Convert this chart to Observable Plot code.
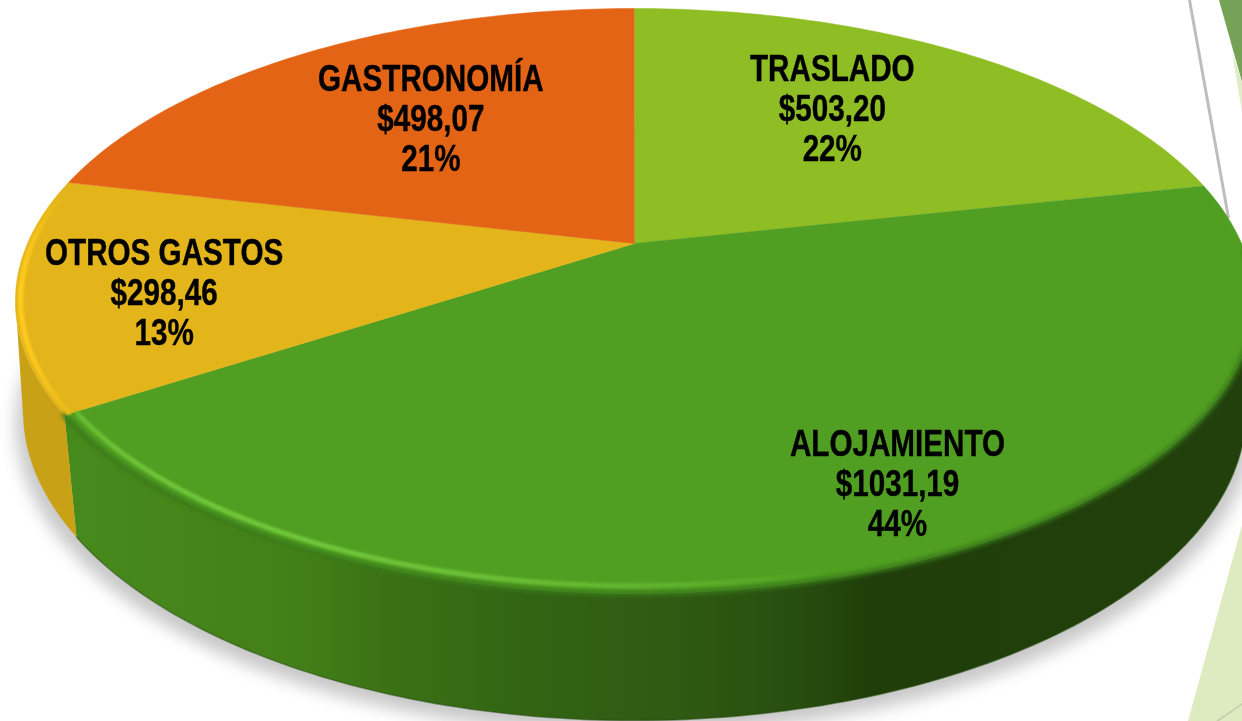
<!DOCTYPE html>
<html lang="es">
<head>
<meta charset="utf-8">
<script src="https://cdn.jsdelivr.net/npm/d3@7"></script>
<script src="https://cdn.jsdelivr.net/npm/@observablehq/plot@0.6"></script>
<style>
  html, body { margin: 0; padding: 0; background: #fff; overflow: hidden; }
  #stage { position: relative; width: 1242px; height: 721px; overflow: hidden; }
  #stage svg { position: absolute; left: 0; top: 0; }
  .deco { position: absolute; inset: 0; }
  .d1 { background: #74a257; clip-path: polygon(1219px 0, 1242px 0, 1242px 82px); }
  .d2 { background: #e0ecc8; clip-path: polygon(1232px 52px, 1242px 82px, 1242px 112px); }
  .d3 { background: #bdbdbd; clip-path: polygon(1188px 0, 1191px 0, 1230px 218px, 1227px 218px); }
  .d4 { background: #deeac0; clip-path: polygon(1242px 525px, 1242px 721px, 1188px 721px); }
  .d5 { background: #c4cfac; clip-path: polygon(1216px 721px, 1242px 703px, 1242px 705px, 1219px 721px); }
</style>
</head>
<body>
<div id="stage">
  <div class="deco d1"></div><div class="deco d2"></div><div class="deco d3"></div>
  <div class="deco d4"></div><div class="deco d5"></div>
</div>
<script>
// ---- data ----
const categories = ["TRASLADO", "ALOJAMIENTO", "OTROS GASTOS", "GASTRONOMÍA"];
const amounts = [503.20, 1031.19, 298.46, 498.07];
const amountLabels = ["$503,20", "$1031,19", "$298,46", "$498,07"];
const percentLabels = ["22%", "44%", "13%", "21%"];

// ---- styles ----
const faceColors = ["#8fbe24", "#519f22", "#e3b51a", "#e46415"];
const wallStops = [[70,"#478a1c"],[300,"#437f18"],[400,"#3a7015"],[530,"#326413"],[700,"#2e5812"],[800,"#274d0f"],[871,"#1f3e0a"],[1242,"#22400c"]];
const otherWall = "#c9a117";
const labelRadius = [0.642, 0.82, 0.768, 0.611];
const labelTurn = [34.1, 153.1, 257.3, 323];

// ---- perspective of the disc ----
const rad = Math.PI / 180;
const cx = 634, cy = 243, A = 607, B = 281.2, k = 0.1966;
const disc = (deg, r = 1) => {
  const u = r * Math.sin(deg * rad), v = -r * Math.cos(deg * rad), w = 1 - k * v;
  return {x: cx + A * u / w, y: cy + B * v / w, v};
};
const under = (deg) => {
  const p = disc(deg);
  return {x: cx + (p.x - cx) * (0.992 - 0.024 * p.v), y: p.y + 116 + 11 * p.v};
};

const total = d3.sum(amounts);
let run = 0;
const slices = categories.map((c, i) => {
  const a0 = run / total * 360;
  run += amounts[i];
  return {c, i, a0, a1: run / total * 360};
});
const arcAngles = (a0, a1, step = 1) => {
  const n = Math.max(2, Math.ceil(Math.abs(a1 - a0) / step));
  return d3.range(n + 1).map(j => a0 + (a1 - a0) * j / n);
};

// top faces
const faces = slices.flatMap(s => [
  {id: s.i, x: cx, y: cy, fill: faceColors[s.i]},
  ...arcAngles(s.a0, s.a1).map(a => ({id: s.i, ...disc(a), fill: faceColors[s.i]}))
]);

// side walls: they end where the disc is at its widest, so the silhouette runs straight down from there
const aloEnd = slices[1].a1;
const wallOf = (a0, a1) => [
  ...arcAngles(a0, a1).map(a => disc(a)),
  ...arcAngles(a1, a0).map(a => under(a))
];
const wallGreen = wallOf(101, aloEnd);
const wallYellow = wallOf(aloEnd, 259);
const lowerEdge = arcAngles(101, aloEnd).map(a => under(a));

// shadow under the pie
const shadow = arcAngles(0, 360, 2).map(a => {
  const q = under(a);
  return {x: cx + (q.x - cx) * 1.012, y: q.y + 13};
});

// soft seam between face and wall, and bevel highlights on the front rim
const seam = arcAngles(slices[1].a0 + 14, aloEnd).map(a => disc(a, 1));
const fade = (a, from, to, hi, lo) => d3.interpolateRgb(hi, lo)(Math.min(1, Math.abs(a - from) / Math.abs(to - from)) ** 2);
const bevel = [
  ...arcAngles(aloEnd - 0.4, 165, 1).map(a => ({...disc(a, 0.982), id: 0, c: fade(a, aloEnd - 25, 165, "#70c63a", "#519f22")})),
  ...arcAngles(aloEnd + 0.2, 280, 1).map(a => ({...disc(a, 0.992), id: 1, c: fade(a, aloEnd + 20, 280, "#ffcb1f", "#e3b51a")}))
];

// labels
const labels = categories.map((c, i) => ({
  ...disc(labelTurn[i], labelRadius[i]),
  text: `${c}\n${amountLabels[i]}\n${percentLabels[i]}`
}));

const chart = Plot.plot({
  width: 1242,
  height: 721,
  margin: 0,
  x: {domain: [0, 1242], range: [0, 1242], axis: null},
  y: {domain: [0, 721], range: [0, 721], axis: null},
  style: {background: "transparent"},
  marks: [
    Plot.line(shadow, {x: "x", y: "y", fill: "#c8c8c8", stroke: "none"}),
    Plot.line(wallGreen, {x: "x", y: "y", fill: "url(#wallGrad)", stroke: "none"}),
    Plot.line(wallYellow, {x: "x", y: "y", fill: otherWall, stroke: "none"}),
    Plot.line(lowerEdge, {x: "x", y: "y", stroke: "#234a0c", strokeWidth: 1.5, strokeOpacity: 0.5}),
    Plot.line(faces, {x: "x", y: "y", z: "id", fill: {value: "fill", scale: null}, stroke: {value: "fill", scale: null}, strokeWidth: 0.5}),
    Plot.line(seam, {x: "x", y: "y", stroke: "#3a7a1a", strokeWidth: 5}),
    Plot.line(bevel, {x: "x", y: "y", z: "id", stroke: {value: "c", scale: null}, strokeWidth: 5}),
    Plot.text(labels, {
      x: "x", y: "y", text: "text",
      fontFamily: "'Liberation Sans', sans-serif",
      fontWeight: 700, fontSize: 36, lineHeight: 1.11, fill: "#000", stroke: "#000", strokeWidth: 0.4, textAnchor: "middle"
    })
  ]
});
document.getElementById("stage").appendChild(chart);

// wall gradient runs across the picture, left to right
const defs = document.createElementNS("http://www.w3.org/2000/svg", "defs");
const grad = document.createElementNS("http://www.w3.org/2000/svg", "linearGradient");
grad.setAttribute("id", "wallGrad");
grad.setAttribute("gradientUnits", "userSpaceOnUse");
grad.setAttribute("x1", 0); grad.setAttribute("x2", 1242);
grad.setAttribute("y1", 0); grad.setAttribute("y2", 0);
wallStops.forEach(([x, c]) => {
  const s = document.createElementNS("http://www.w3.org/2000/svg", "stop");
  s.setAttribute("offset", x / 1242);
  s.setAttribute("stop-color", c);
  grad.appendChild(s);
});
defs.appendChild(grad);
chart.insertBefore(defs, chart.firstChild);

const groups = [...chart.children].filter(n => n.tagName.toLowerCase() === "g");
const [gShadow, gWallG, gWallY, gEdge, gFaces, gSeam, gBevel, gLabels] = groups;
const blur = (g, px) => { if (g) g.style.filter = `blur(${px}px)`; };
blur(gShadow, 8);
blur(gWallG, 0.5);
blur(gWallY, 0.5);
blur(gEdge, 0.6);
blur(gFaces, 0.6);
blur(gSeam, 2);
blur(gBevel, 1.2);
blur(gLabels, 0.4);
// condensed lettering: no narrow face is installed, so squeeze the text horizontally
gLabels.querySelectorAll("text").forEach(t => {
  t.setAttribute("transform", (t.getAttribute("transform") || "") + " scale(0.824,1)");
});
</script>
</body>
</html>
